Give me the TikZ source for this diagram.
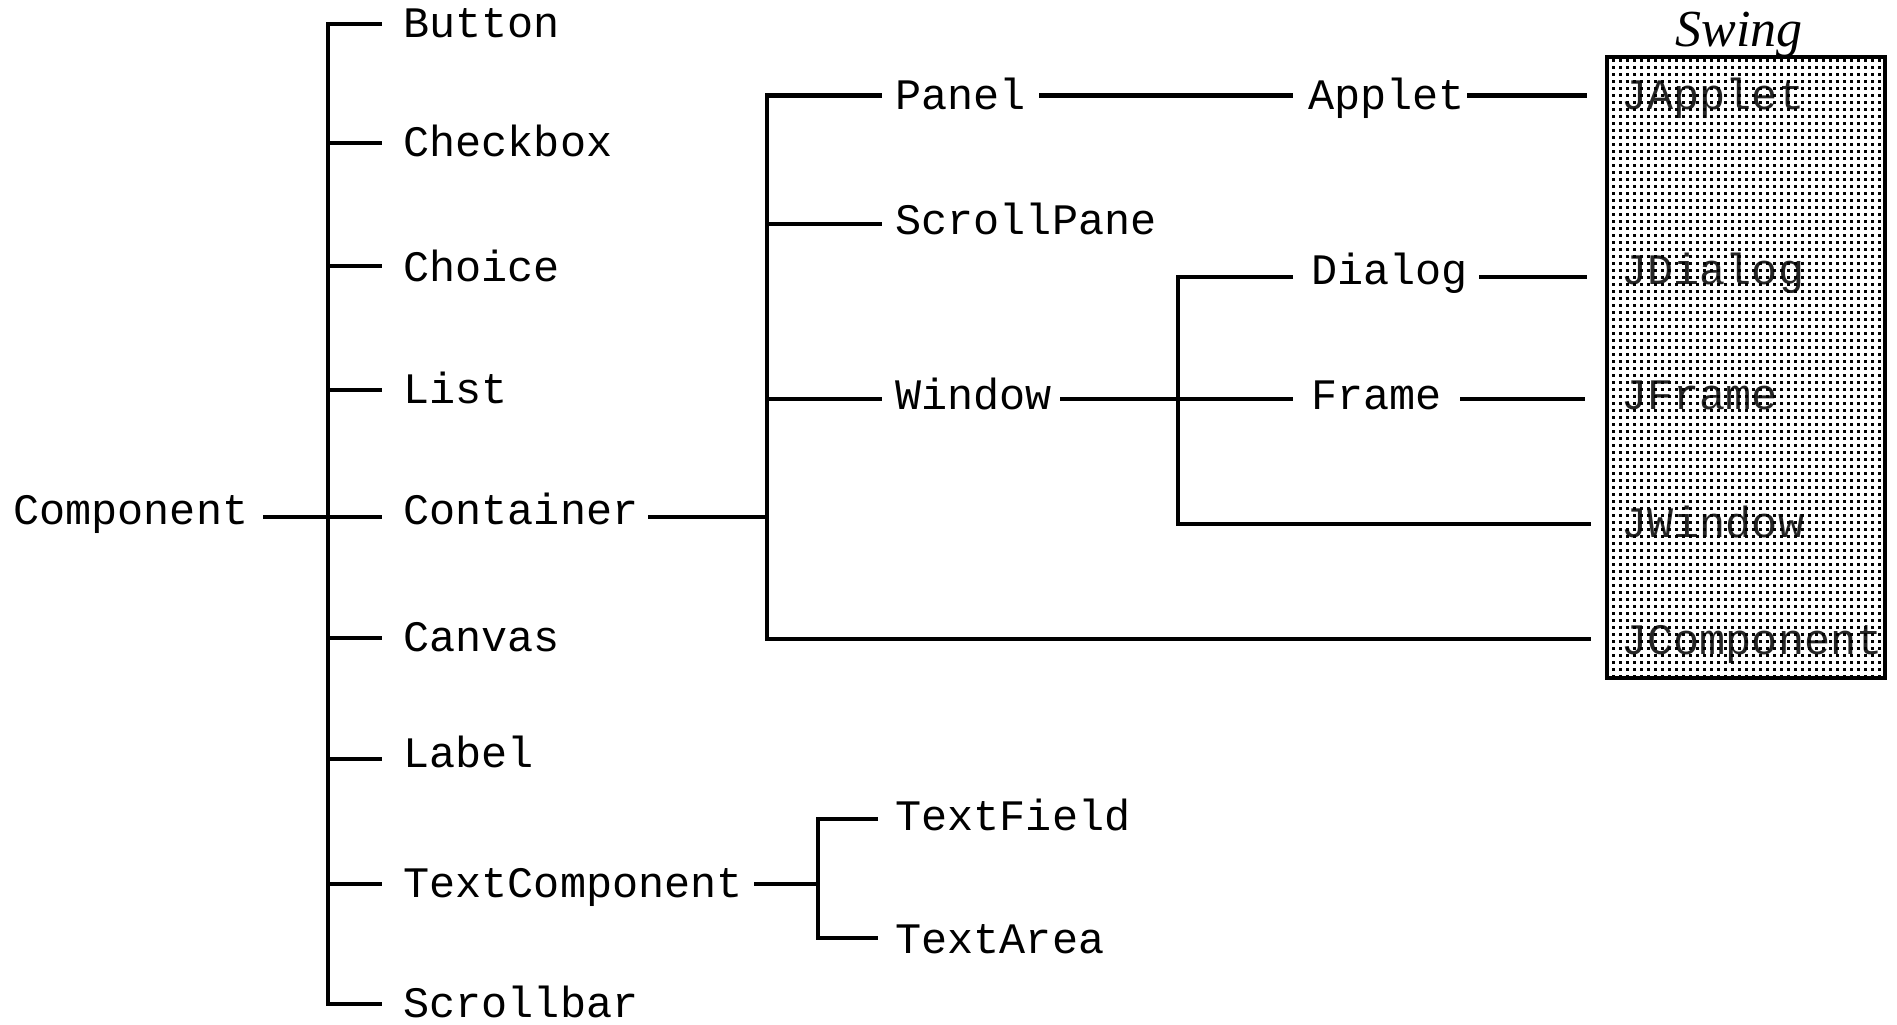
\documentclass[tikz,border=0pt]{standalone}
\usepackage{fontspec}
\newfontfamily\monofnt{Liberation Mono}
\newfontfamily\seriffnt{Liberation Serif}
\usetikzlibrary{patterns}
\pgfdeclarepatternformonly{sqdots}{\pgfpointorigin}{\pgfqpoint{3.33pt}{3.33pt}}{\pgfqpoint{3.33pt}{3.33pt}}{%
  \pgfpathrectangle{\pgfpointorigin}{\pgfqpoint{1.5pt}{1.5pt}}\pgfusepath{fill}}
\tikzset{
  lbl/.style={anchor=base west, inner sep=0pt, font=\monofnt\fontsize{21.75}{26}\selectfont},
  conn/.style={line width=2.2pt, line join=miter, line cap=butt},
  swingbox/.style={line width=2.4pt},
}
\begin{document}
\begin{tikzpicture}[x=0.5pt,y=-0.5pt]
\useasboundingbox (0,0) rectangle (1897,1024);
% Swing box
\fill[white] (1607,57) rectangle (1885,678);
\node[lbl, text=black!85] (japplet) at (1621,109.3) {JApplet};
\node[lbl, text=black!85] (jdialog) at (1621,284.7) {JDialog};
\node[lbl, text=black!85] (jframe) at (1621,409.1) {JFrame};
\node[lbl, text=black!85] (jwindow) at (1621,537.8) {JWindow};
\node[lbl, text=black!85] (jcomponent) at (1621,654) {JComponent};
\fill[pattern=sqdots] (1607,57) rectangle (1885,678);
\draw[swingbox] (1607,57) rectangle (1885,678);
\node[anchor=base, inner sep=0pt, font=\seriffnt\itshape\fontsize{26}{30}\selectfont] (swing) at (1739,46) {Swing};

% text nodes
\node[lbl] (component) at (13,524.7) {Component};
\node[lbl] (button) at (403,37.8) {Button};
\node[lbl] (checkbox) at (403,156.8) {Checkbox};
\node[lbl] (choice) at (403,281) {Choice};
\node[lbl] (list) at (403,403.8) {List};
\node[lbl] (container) at (403,524.7) {Container};
\node[lbl] (canvas) at (403,651.8) {Canvas};
\node[lbl] (label) at (403,767.9) {Label};
\node[lbl] (textcomponent) at (403,897.8) {TextComponent};
\node[lbl] (scrollbar) at (403,1017.8) {Scrollbar};
\node[lbl] (panel) at (895,109.3) {Panel};
\node[lbl] (scrollpane) at (895,234.1) {ScrollPane};
\node[lbl] (window) at (895,409.1) {Window};
\node[lbl] (applet) at (1308,109.3) {Applet};
\node[lbl] (dialog) at (1311,284.7) {Dialog};
\node[lbl] (frame) at (1311,409.1) {Frame};
\node[lbl] (textfield) at (895,830.3) {TextField};
\node[lbl] (textarea) at (895,953) {TextArea};

% connector coordinates
\coordinate (compR) at (263,517);
\coordinate (trunkTop) at (328,24);
\coordinate (trunkBot) at (328,1004);
\coordinate (buttonL) at (382,24);
\coordinate (scrollbarL) at (382,1004);
\foreach \nm/\yy in {checkbox/143, choice/266, list/390, container/517, canvas/638, label/759, textcomponent/884}{
  \coordinate (\nm T) at (328,\yy);
  \coordinate (\nm L) at (382,\yy);
}
\coordinate (containerR) at (648,517);
\coordinate (cvTop) at (767,95.6);
\coordinate (cvMid) at (767,517);
\coordinate (cvBot) at (767,639);
\coordinate (panelL) at (882,95.6);
\coordinate (spT) at (767,224);
\coordinate (scrollpaneL) at (882,224);
\coordinate (winT) at (767,399);
\coordinate (windowL) at (882,399);
\coordinate (jcompL) at (1591,639);
\coordinate (panelR) at (1039,95.6);
\coordinate (appletL) at (1293,95.6);
\coordinate (appletR) at (1467,95.6);
\coordinate (jappletL) at (1587,95.6);
\coordinate (windowR) at (1060,399);
\coordinate (svTop) at (1178,277);
\coordinate (svMid) at (1178,399);
\coordinate (svBot) at (1178,524);
\coordinate (dialogL) at (1293,277);
\coordinate (frameL) at (1293,399);
\coordinate (dialogR) at (1479,277);
\coordinate (jdialogL) at (1587,277);
\coordinate (frameR) at (1460,399);
\coordinate (jframeL) at (1585,399);
\coordinate (jwindowL) at (1591,524);
\coordinate (tcR) at (754,884);
\coordinate (tvTop) at (818,819);
\coordinate (tvMid) at (818,884);
\coordinate (tvBot) at (818,938);
\coordinate (textfieldL) at (878,819);
\coordinate (textareaL) at (878,938);

% connectors
\draw[conn] (compR) -- (containerT);
\draw[conn] (buttonL) -- (trunkTop) -- (trunkBot) -- (scrollbarL);
\foreach \nm in {checkbox, choice, list, container, canvas, label, textcomponent}{
  \draw[conn] (\nm T) -- (\nm L);
}
\draw[conn] (containerR) -- (cvMid);
\draw[conn] (panelL) -- (cvTop) -- (cvBot) -- (jcompL);
\draw[conn] (spT) -- (scrollpaneL);
\draw[conn] (winT) -- (windowL);
\draw[conn] (panelR) -- (appletL);
\draw[conn] (appletR) -- (jappletL);
\draw[conn] (windowR) -- (frameL);
\draw[conn] (dialogL) -- (svTop) -- (svBot) -- (jwindowL);
\draw[conn] (dialogR) -- (jdialogL);
\draw[conn] (frameR) -- (jframeL);
\draw[conn] (tcR) -- (tvMid);
\draw[conn] (textfieldL) -- (tvTop) -- (tvBot) -- (textareaL);
\end{tikzpicture}
\end{document}
